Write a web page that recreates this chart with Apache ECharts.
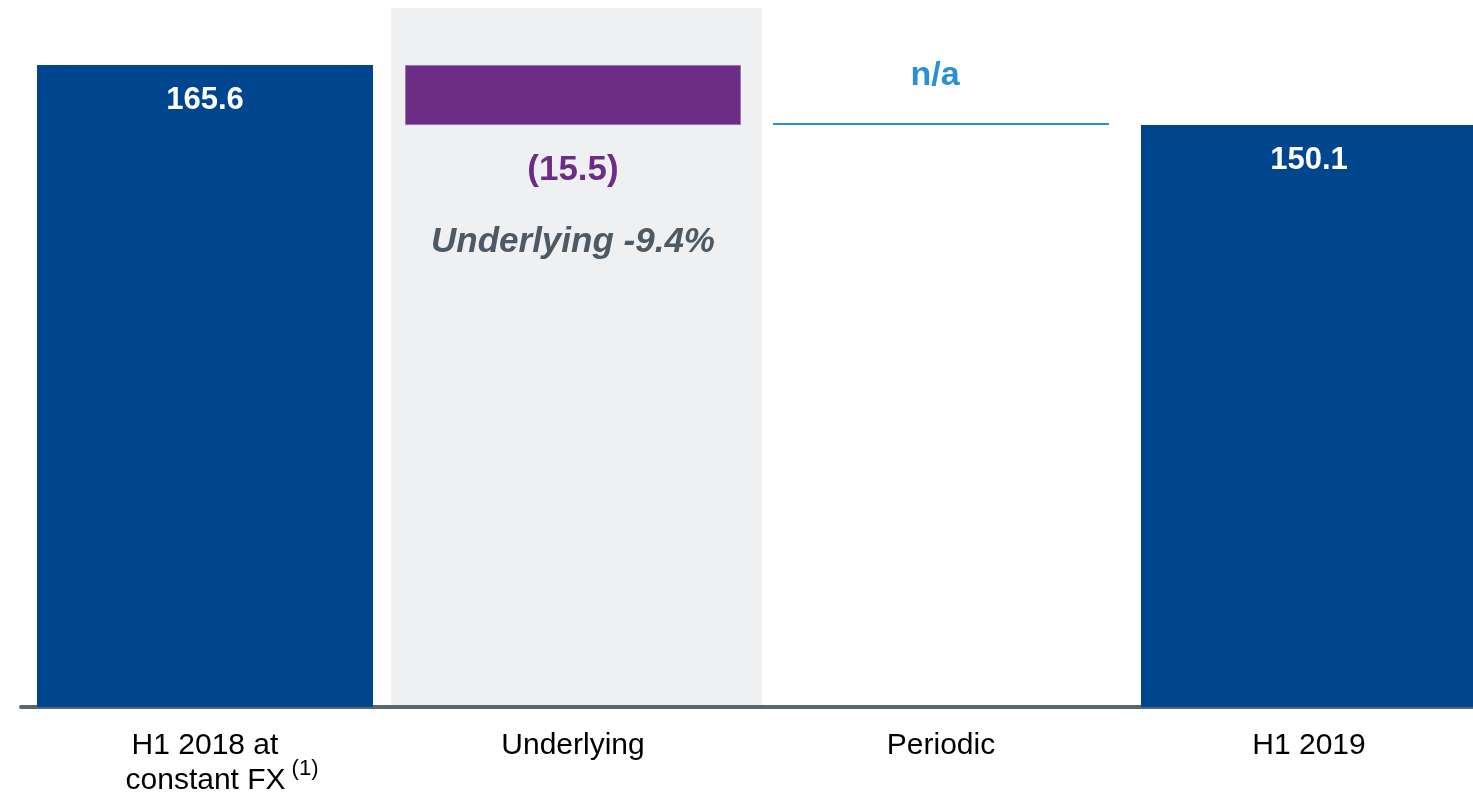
<!DOCTYPE html>
<html>
<head>
<meta charset="utf-8">
<script src="https://cdn.jsdelivr.net/npm/echarts/dist/echarts.min.js"></script>
<style>
  html, body { margin: 0; padding: 0; background: #ffffff; overflow: hidden; }
  #chart { width: 1473px; height: 797px; }
</style>
</head>
<body>
<div id="chart"></div>
<script>
// ---- data ----
const categories = ['H1 2018 at\nconstant FX', 'Underlying', 'Periodic', 'H1 2019'];
const footnotes = ['(1)', '', '', ''];
const values = [165.6, -15.5, null, 150.1];        // null = n/a
const kinds = ['total', 'delta', 'na', 'total'];
const deltaNotes = ['', 'Underlying -9.4%', '', ''];
const naText = 'n/a';
const highlightCategory = 'Underlying';

// ---- styles ----
const FONT = '"Liberation Sans", Arial, sans-serif';
const BLUE = '#00468F';
const PURPLE = '#6C2D87';
const NA_BLUE = '#2A90D6';
const BAND = '#EFF0F2';
const AXIS = '#5B6670';
const NOTE = '#4D5965';
const BAR_W = 336;
const Y_MAX = 180.3;

// ---- waterfall construction ----
let running = 0;
const helper = [], main = [], naPoints = [];
values.forEach((v, i) => {
  if (kinds[i] === 'total') {
    helper.push(0);
    main.push({
      value: v,
      itemStyle: { color: BLUE },
      label: {
        show: true, position: 'insideTop', distance: 20,
        formatter: () => v.toFixed(1),
        color: '#ffffff', fontSize: 31, fontWeight: 'bold', fontFamily: FONT
      }
    });
    running = v;
  } else if (kinds[i] === 'delta') {
    const after = running + v;
    helper.push(Math.min(running, after));
    main.push({
      value: Math.abs(v),
      itemStyle: { color: PURPLE, borderColor: '#9C74B0', borderWidth: 1 },
      label: {
        show: true, position: 'bottom', distance: 25,
        formatter: () => '{a|' + (v < 0 ? '(' + Math.abs(v).toFixed(1) + ')' : v.toFixed(1)) + '}\n{b|' + deltaNotes[i] + '}',
        rich: {
          a: { fontSize: 35, fontWeight: 'bold', color: PURPLE, fontFamily: FONT, lineHeight: 40 },
          b: { fontSize: 35, fontWeight: 'bold', fontStyle: 'italic', color: NOTE, fontFamily: FONT, lineHeight: 104 }
        }
      }
    });
    running = after;
  } else {
    helper.push(null);
    main.push(null);
    naPoints.push([i, running]);
  }
});

const chart = echarts.init(document.getElementById('chart'), null, { renderer: 'canvas' });

chart.setOption({
  animation: false,
  backgroundColor: '#ffffff',
  grid: { left: 21, width: 1472, top: 8, bottom: 90, containLabel: false, outerBoundsMode: 'none' },
  xAxis: {
    type: 'category',
    data: categories,
    axisLine: { show: true, lineStyle: { color: AXIS, width: 4 } },
    axisTick: { show: false },
    axisLabel: {
      interval: 0,
      margin: 27,
      hideOverlap: false,
      formatter: (value, idx) => {
        const lines = value.split('\n');
        const fn = footnotes[idx];
        return lines.map((l, li) => {
          if (li === 0) return '{n|' + l + '}';
          if (li === lines.length - 1 && fn) return '{sp| }{m|' + l + '}{s|' + fn + '}';
          return '{m|' + l + '}';
        }).join('\n');
      },
      rich: {
        n: { fontSize: 30, lineHeight: 24, color: '#000000', fontFamily: FONT },
        m: { fontSize: 30, lineHeight: 46, color: '#000000', fontFamily: FONT },
        sp: { width: 34, lineHeight: 46, fontSize: 30 },
        s: { fontSize: 22, lineHeight: 10, verticalAlign: 'top', padding: [0, 0, 0, 6], color: '#000000', fontFamily: FONT }
      }
    }
  },
  yAxis: { type: 'value', min: 0, max: Y_MAX, show: false, splitLine: { show: false } },
  series: [
    {
      type: 'custom',
      silent: true,
      z: 0,
      data: [[categories.indexOf(highlightCategory), 0]],
      encode: { x: 0, y: 1 },
      renderItem: (params, api) => {
        const cs = params.coordSys;
        const cx = api.coord([api.value(0), 0])[0];
        const w = api.size([1, 0])[0];
        return {
          type: 'rect',
          shape: { x: cx - w / 2 + 2, y: cs.y, width: w + 3, height: cs.height },
          style: { fill: BAND }
        };
      }
    },
    {
      type: 'bar', stack: 'wf', silent: true, z: 2,
      barWidth: BAR_W,
      itemStyle: { color: 'rgba(0,0,0,0)' },
      data: helper
    },
    {
      type: 'bar', stack: 'wf', z: 3,
      barWidth: BAR_W,
      data: main
    },
    {
      type: 'custom',
      z: 4,
      data: naPoints,
      encode: { x: 0, y: 1 },
      renderItem: (params, api) => {
        const p = api.coord([api.value(0), api.value(1)]);
        return {
          type: 'group',
          children: [
            {
              type: 'line',
              shape: { x1: p[0] - BAR_W / 2, y1: p[1] - 1, x2: p[0] + BAR_W / 2, y2: p[1] - 1 },
              style: { stroke: NA_BLUE, lineWidth: 2 }
            },
            {
              type: 'text',
              x: p[0] - 6, y: p[1] - 49,
              style: {
                text: naText, fill: NA_BLUE, fontSize: 34, fontWeight: 'bold', fontFamily: FONT,
                align: 'center', verticalAlign: 'middle'
              }
            }
          ]
        };
      }
    }
  ]
});
</script>
</body>
</html>
